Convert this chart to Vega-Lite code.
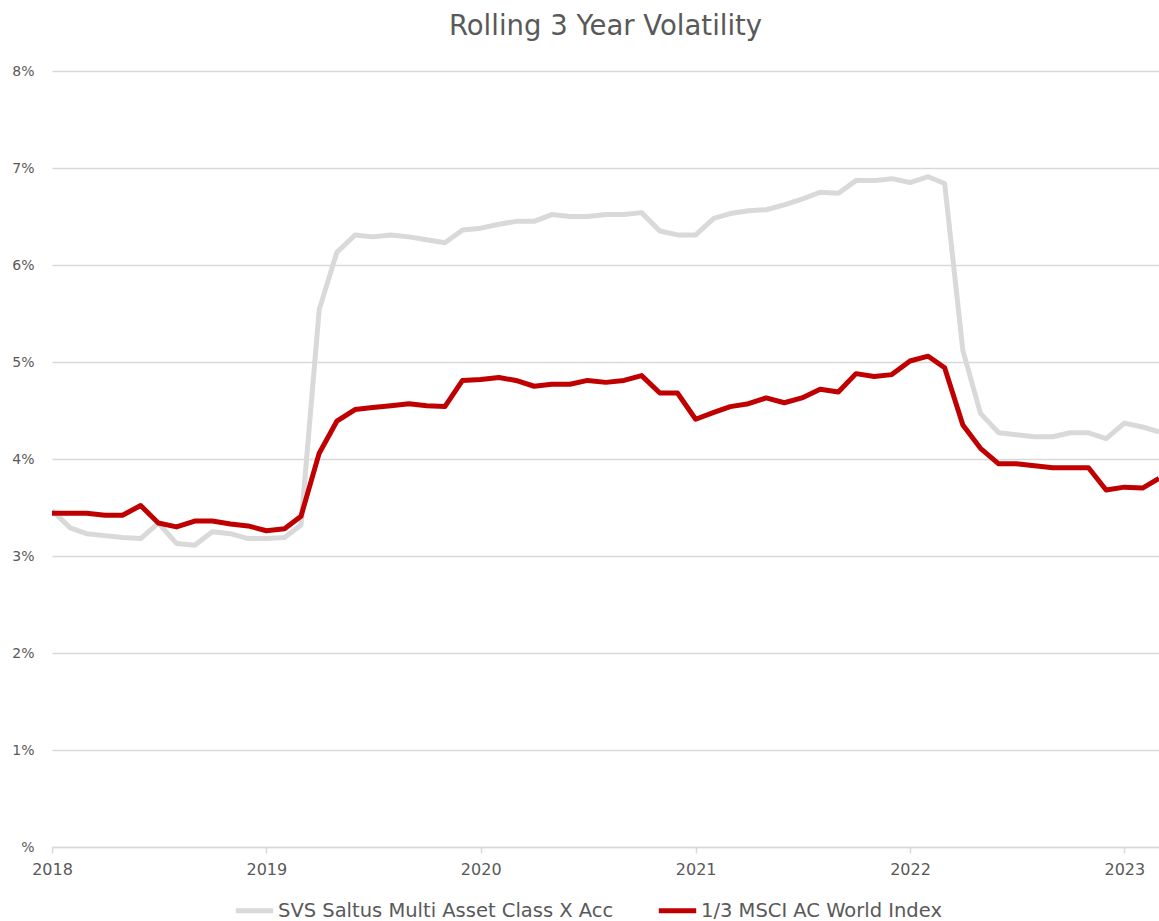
{
  "$schema": "https://vega.github.io/schema/vega-lite/v6.json",
  "autosize": "none",
  "width": 1107,
  "height": 776,
  "padding": {"left": 52, "top": 71, "right": 0, "bottom": 74},
  "background": "white",
  "config": {
    "view": {"stroke": null},
    "font": "DejaVu Sans"
  },
  "title": {
    "text": "Rolling 3 Year Volatility",
    "fontSize": 27.5,
    "fontWeight": "normal",
    "color": "#595959",
    "font": "DejaVu Sans",
    "anchor": "middle",
    "offset": 24
  },
  "data": {
    "values": [
      {"date": "2018-01-01", "svs": 3.47, "msci": 3.44},
      {"date": "2018-02-01", "svs": 3.29, "msci": 3.44},
      {"date": "2018-03-01", "svs": 3.23, "msci": 3.44},
      {"date": "2018-04-01", "svs": 3.21, "msci": 3.42},
      {"date": "2018-05-01", "svs": 3.19, "msci": 3.42},
      {"date": "2018-06-01", "svs": 3.18, "msci": 3.52},
      {"date": "2018-07-01", "svs": 3.34, "msci": 3.34},
      {"date": "2018-08-01", "svs": 3.13, "msci": 3.30},
      {"date": "2018-09-01", "svs": 3.11, "msci": 3.36},
      {"date": "2018-10-01", "svs": 3.25, "msci": 3.36},
      {"date": "2018-11-01", "svs": 3.23, "msci": 3.33},
      {"date": "2018-12-01", "svs": 3.18, "msci": 3.31},
      {"date": "2019-01-01", "svs": 3.18, "msci": 3.26},
      {"date": "2019-02-01", "svs": 3.19, "msci": 3.28},
      {"date": "2019-03-01", "svs": 3.32, "msci": 3.41},
      {"date": "2019-04-01", "svs": 5.54, "msci": 4.06},
      {"date": "2019-05-01", "svs": 6.13, "msci": 4.39},
      {"date": "2019-06-01", "svs": 6.31, "msci": 4.51},
      {"date": "2019-07-01", "svs": 6.29, "msci": 4.53},
      {"date": "2019-08-01", "svs": 6.31, "msci": 4.55},
      {"date": "2019-09-01", "svs": 6.29, "msci": 4.57},
      {"date": "2019-10-01", "svs": 6.26, "msci": 4.55},
      {"date": "2019-11-01", "svs": 6.23, "msci": 4.54},
      {"date": "2019-12-01", "svs": 6.36, "msci": 4.81},
      {"date": "2020-01-01", "svs": 6.38, "msci": 4.82},
      {"date": "2020-02-01", "svs": 6.42, "msci": 4.84},
      {"date": "2020-03-01", "svs": 6.45, "msci": 4.81},
      {"date": "2020-04-01", "svs": 6.45, "msci": 4.75},
      {"date": "2020-05-01", "svs": 6.52, "msci": 4.77},
      {"date": "2020-06-01", "svs": 6.50, "msci": 4.77},
      {"date": "2020-07-01", "svs": 6.50, "msci": 4.81},
      {"date": "2020-08-01", "svs": 6.52, "msci": 4.79},
      {"date": "2020-09-01", "svs": 6.52, "msci": 4.81},
      {"date": "2020-10-01", "svs": 6.54, "msci": 4.86},
      {"date": "2020-11-01", "svs": 6.35, "msci": 4.68},
      {"date": "2020-12-01", "svs": 6.31, "msci": 4.68},
      {"date": "2021-01-01", "svs": 6.31, "msci": 4.41},
      {"date": "2021-02-01", "svs": 6.48, "msci": 4.48},
      {"date": "2021-03-01", "svs": 6.53, "msci": 4.54},
      {"date": "2021-04-01", "svs": 6.56, "msci": 4.57},
      {"date": "2021-05-01", "svs": 6.57, "msci": 4.63},
      {"date": "2021-06-01", "svs": 6.62, "msci": 4.58},
      {"date": "2021-07-01", "svs": 6.68, "msci": 4.63},
      {"date": "2021-08-01", "svs": 6.75, "msci": 4.72},
      {"date": "2021-09-01", "svs": 6.74, "msci": 4.69},
      {"date": "2021-10-01", "svs": 6.87, "msci": 4.88},
      {"date": "2021-11-01", "svs": 6.87, "msci": 4.85},
      {"date": "2021-12-01", "svs": 6.89, "msci": 4.87},
      {"date": "2022-01-01", "svs": 6.85, "msci": 5.01},
      {"date": "2022-02-01", "svs": 6.91, "msci": 5.06},
      {"date": "2022-03-01", "svs": 6.84, "msci": 4.94},
      {"date": "2022-04-01", "svs": 5.12, "msci": 4.35},
      {"date": "2022-05-01", "svs": 4.47, "msci": 4.11},
      {"date": "2022-06-01", "svs": 4.27, "msci": 3.95},
      {"date": "2022-07-01", "svs": 4.25, "msci": 3.95},
      {"date": "2022-08-01", "svs": 4.23, "msci": 3.93},
      {"date": "2022-09-01", "svs": 4.23, "msci": 3.91},
      {"date": "2022-10-01", "svs": 4.27, "msci": 3.91},
      {"date": "2022-11-01", "svs": 4.27, "msci": 3.91},
      {"date": "2022-12-01", "svs": 4.21, "msci": 3.68},
      {"date": "2023-01-01", "svs": 4.37, "msci": 3.71},
      {"date": "2023-02-01", "svs": 4.33, "msci": 3.70},
      {"date": "2023-03-01", "svs": 4.28, "msci": 3.80}
    ]
  },
  "transform": [
    {"fold": ["svs", "msci"], "as": ["series", "value"]}
  ],
  "mark": {"type": "line", "strokeWidth": 5, "strokeJoin": "round", "clip": true},
  "encoding": {
    "x": {
      "field": "date",
      "type": "temporal",
      "scale": {
        "type": "utc",
        "domain": [
          {"year": 2018, "month": 1, "date": 1, "utc": true},
          {"year": 2023, "month": 3, "date": 1, "utc": true}
        ],
        "nice": false
      },
      "axis": {
        "title": null,
        "format": "%Y",
        "tickCount": {"interval": "year", "step": 1},
        "grid": false,
        "domainColor": "#d9d9d9",
        "domainWidth": 1.5,
        "tickColor": "#d9d9d9",
        "tickWidth": 1.5,
        "tickSize": 6,
        "labelColor": "#595959",
        "labelFontSize": 16,
        "labelFont": "DejaVu Sans",
        "labelPadding": 8,
        "labelFlush": false,
        "labelOverlap": false
      }
    },
    "y": {
      "field": "value",
      "type": "quantitative",
      "scale": {"domain": [0, 8], "nice": false},
      "axis": {
        "title": null,
        "values": [0, 1, 2, 3, 4, 5, 6, 7, 8],
        "labelExpr": "datum.value == 0 ? '%' : datum.value + '%'",
        "domain": false,
        "ticks": false,
        "grid": true,
        "gridColor": "#d9d9d9",
        "gridWidth": 1.5,
        "labelColor": "#595959",
        "labelFontSize": 14,
        "labelFont": "DejaVu Sans",
        "labelPadding": 18
      }
    },
    "color": {
      "field": "series",
      "type": "nominal",
      "scale": {"domain": ["svs", "msci"], "range": ["#d9d9d9", "#c00000"]},
      "legend": {
        "title": null,
        "orient": "none",
        "direction": "horizontal",
        "legendX": 181,
        "legendY": 818,
        "symbolType": "stroke",
        "symbolSize": 1400,
        "symbolStrokeWidth": 5,
        "labelOffset": 2,
        "columnPadding": 34,
        "labelFontSize": 19.5,
        "labelFont": "DejaVu Sans",
        "labelColor": "#595959",
        "labelLimit": 500,
        "labelExpr": "datum.value == 'svs' ? 'SVS Saltus Multi Asset Class X Acc' : '1/3 MSCI AC World Index'"
      }
    }
  }
}
